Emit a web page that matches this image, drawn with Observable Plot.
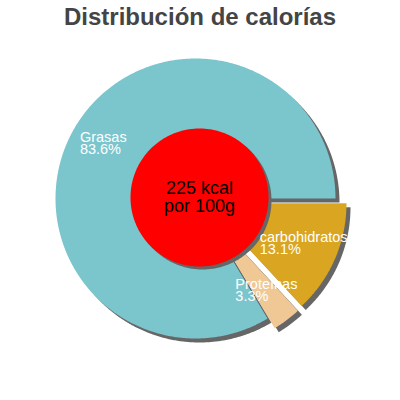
<!DOCTYPE html>
<html><head><meta charset="utf-8">
<script src="https://cdn.jsdelivr.net/npm/d3@7"></script>
<script src="https://cdn.jsdelivr.net/npm/@observablehq/plot@0.6"></script>
<style>
body{margin:0;background:#fff;font-family:"Liberation Sans",Arial,sans-serif;}
#title{height:40px;box-sizing:border-box;padding-top:2px;line-height:30px;font-size:24px;font-weight:bold;color:#444;text-align:center;}
</style></head><body>
<div id="title">Distribución de calorías</div>
<div id="chart"></div>
<script>
// data
const categories = ["carbohidratos", "Proteínas", "Grasas"];
const percents = [13.1, 3.3, 83.6];
const sliceColors = ["#daa520", "#f0c896", "#7bc5cd"];
const exploded = [true, true, false];
const centerLines = ["225 kcal", "por 100g"];

// layout (pixel-like data units)
const R = 140, EXPLODE = 12, LABEL_R = 106;
const centerCircle = {x: 4, y: 1, r: 69};
const FONT = "Liberation Sans, Arial, sans-serif";
const LABEL_SIZE = 14.5;

const pie = d3.pie().sort(null).value(d => d.pct)
  .startAngle(Math.PI / 2).endAngle(Math.PI / 2 + 2 * Math.PI);
const items = categories.map((c, i) => ({name: c, pct: percents[i], color: sliceColors[i], exploded: exploded[i]}));
const arcs = pie(items);

const slicePts = [];
const labels = [];
const ctx = document.createElement("canvas").getContext("2d");
ctx.font = `${LABEL_SIZE}px ${FONT}`;
arcs.forEach(a => {
  const d = a.data;
  const m = (a.startAngle + a.endAngle) / 2;
  const off = d.exploded ? EXPLODE : 0;
  const ox = off * Math.sin(m), oy = off * Math.cos(m);
  slicePts.push({key: d.name, color: d.color, x: ox, y: oy});
  const n = Math.max(2, Math.ceil((a.endAngle - a.startAngle) / (Math.PI / 360)));
  for (let k = 0; k <= n; k++) {
    const t = a.startAngle + (a.endAngle - a.startAngle) * k / n;
    slicePts.push({key: d.name, color: d.color, x: ox + R * Math.sin(t), y: oy + R * Math.cos(t)});
  }
  slicePts.push({key: d.name, color: d.color, x: ox, y: oy});
  const text = d.name + "\n" + d.pct.toFixed(1) + "%";
  const w = Math.max(...text.split("\n").map(s => ctx.measureText(s).width));
  const cx = ox + LABEL_R * Math.sin(m), cy = oy + LABEL_R * Math.cos(m);
  labels.push({x: cx - w / 2, y: cy + 2, text});
});

const circlePts = d3.range(0, 361, 1).map(deg => ({
  x: centerCircle.x + centerCircle.r * Math.sin(deg * Math.PI / 180),
  y: centerCircle.y + centerCircle.r * Math.cos(deg * Math.PI / 180)
}));

const chart = Plot.plot({
  width: 400, height: 360,
  margin: 0,
  x: {domain: [-195, 205], axis: null},
  y: {domain: [-202, 158], axis: null},
  color: {type: "identity"},
  style: {fontFamily: FONT, background: "white"},
  marks: [
    Plot.line(slicePts, {x: "x", y: "y", z: "key", fill: "#666", stroke: null, dx: 4, dy: 4}),
    Plot.line(slicePts, {x: "x", y: "y", z: "key", fill: "color", stroke: null}),
    Plot.line(circlePts, {x: "x", y: "y", fill: "#666", stroke: null, dx: 3, dy: 3}),
    Plot.line(circlePts, {x: "x", y: "y", fill: "#ff0000", stroke: null}),
    Plot.text(labels, {x: "x", y: "y", text: "text", textAnchor: "start", lineAnchor: "middle", fill: "white", fontSize: LABEL_SIZE, lineHeight: 0.85}),
    Plot.text([centerLines.join("\n")], {x: centerCircle.x, y: centerCircle.y, text: d => d, textAnchor: "middle", lineAnchor: "middle", fill: "black", fontSize: 18, lineHeight: 0.95})
  ]
});
document.getElementById("chart").appendChild(chart);
</script>
</body></html>
